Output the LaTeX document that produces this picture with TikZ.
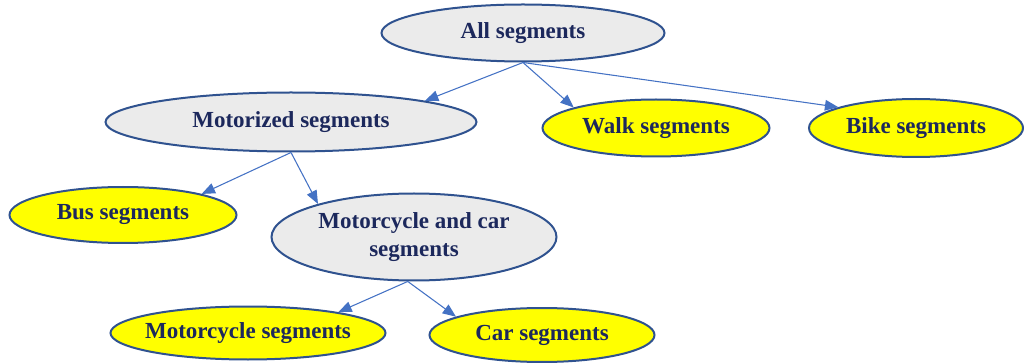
\documentclass[tikz,border=0pt]{standalone}
\usepackage{fontspec}
\setmainfont{Liberation Serif}
\usetikzlibrary{shapes.geometric,arrows.meta}
\definecolor{txtc}{RGB}{28,40,92}
\definecolor{edgec}{RGB}{47,82,143}
\definecolor{grayf}{RGB}{235,235,235}
\definecolor{yelf}{RGB}{255,255,0}
\definecolor{arrc}{RGB}{68,114,196}
\tikzset{
  seg/.style={ellipse, draw=edgec, line width=1.5pt, inner sep=0pt, align=center,
    text=txtc, font=\bfseries\fontsize{17.25}{20.5}\selectfont},
  grayseg/.style={seg, fill=grayf},
  yelseg/.style={seg, fill=yelf},
  link/.style={draw=arrc, line width=0.8pt, -{Triangle[length=10pt,width=8pt]}}
}
\begin{document}
\begin{tikzpicture}[x=0.75pt,y=-0.75pt]
\useasboundingbox (0,0) rectangle (1024,363);
\node[grayseg, minimum width=212.25pt, minimum height=42.75pt] (all) at (523,33) {\raisebox{4pt}{All segments}};
\node[grayseg, minimum width=278.25pt, minimum height=44.25pt] (mot) at (291,122) {Motorized segments};
\node[yelseg, minimum width=170.25pt, minimum height=42.75pt] (walk) at (656,128) {Walk segments};
\node[yelseg, minimum width=160.5pt, minimum height=43.5pt] (bike) at (916,128) {Bike segments};
\node[yelseg, minimum width=170.25pt, minimum height=42pt] (bus) at (123,215) {Bus segments};
\node[grayseg, inner xsep=-6pt, minimum width=213.75pt, minimum height=65.25pt] (mc) at (414,237) {Motorcycle and car\\segments};
\node[yelseg, inner xsep=-9pt, minimum width=206.25pt, minimum height=39.75pt] (mcy) at (248,333) {Motorcycle segments};
\node[yelseg, minimum width=168.75pt, minimum height=40.5pt] (car) at (542,335) {Car segments};
\draw[link] (all.south) -- (mot.9);
\draw[link] (all.south) -- (walk.166.6);
\draw[link] (all.south) -- (bike.165.3);
\draw[link] (mot.south) -- (bus.15);
\draw[link] (mot.south) -- (mc.161.4);
\draw[link] (mc.262) -- (mcy.13);
\draw[link] (mc.262) -- (car.168.6);
\end{tikzpicture}
\end{document}
